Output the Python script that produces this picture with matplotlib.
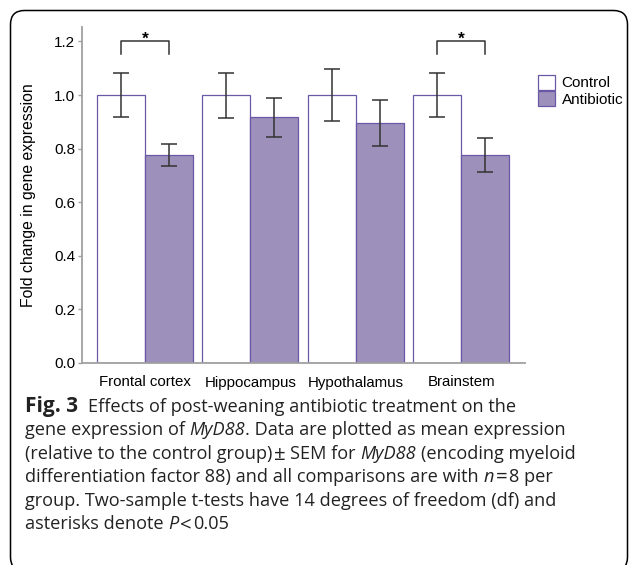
import matplotlib
matplotlib.use("Agg")
import matplotlib.pyplot as plt
import numpy as np
from matplotlib.patches import FancyBboxPatch, Patch
from matplotlib.transforms import IdentityTransform

# data
regions = ["Frontal cortex", "Hippocampus", "Hypothalamus", "Brainstem"]
control = [1.0, 1.0, 1.0, 1.0]
control_sem = [0.081, 0.084, 0.097, 0.083]
antibiotic = [0.776, 0.917, 0.896, 0.775]
antibiotic_sem = [0.040, 0.072, 0.086, 0.064]
significant = [True, False, False, True]
yticks = [0.0, 0.2, 0.4, 0.6, 0.8, 1.0, 1.2]

purple_edge = "#6a58a6"
purple_fill = "#9d90ba"
err_col = "#333333"
axis_col = "#a0a0a0"

plt.rcParams["font.family"] = ["Liberation Sans", "DejaVu Sans"]

W, H = 630, 565
fig = plt.figure(figsize=(W / 100, H / 100), dpi=100)
ax = fig.add_axes([82 / W, 1 - 363 / H, (525 - 82) / W, (363 - 27) / H])

x = np.arange(len(regions))
w = 0.456
ax.bar(x - w / 2, control, w, color="white", edgecolor=purple_edge, linewidth=0.9, label="Control")
ax.bar(x + w / 2, antibiotic, w, color=purple_fill, edgecolor=purple_edge, linewidth=0.9, label="Antibiotic")
ax.errorbar(x - w / 2, control, yerr=control_sem, fmt="none", ecolor=err_col,
            elinewidth=1.1, capsize=5.8, capthick=1.1)
ax.errorbar(x + w / 2, antibiotic, yerr=antibiotic_sem, fmt="none", ecolor=err_col,
            elinewidth=1.1, capsize=5.8, capthick=1.1)

# significance brackets
for i, s in enumerate(significant):
    if s:
        ax.plot([i - w / 2, i - w / 2, i + w / 2, i + w / 2], [1.153, 1.202, 1.202, 1.153],
                color=err_col, lw=1.1, clip_on=False)
        ax.text(i, 1.19, "*", ha="center", va="baseline", fontsize=12.5, fontweight="bold")

ax.set_xlim(-0.6, 3.607)
ax.set_ylim(0, 1.254)
ax.set_yticks(yticks)
ax.set_yticklabels([f"{t:.1f}" for t in yticks], fontsize=11)
ax.set_xticks(x)
ax.set_xticklabels(regions, fontsize=10.8)
ax.tick_params(axis="x", length=0, pad=9)
ax.tick_params(axis="y", length=3, color=axis_col, width=1, pad=2)
for sp in ["top", "right"]:
    ax.spines[sp].set_visible(False)
for sp in ["left", "bottom"]:
    ax.spines[sp].set_color(axis_col)
    ax.spines[sp].set_linewidth(1.3)
ax.set_ylabel("Fold change in gene expression", fontsize=11.3, labelpad=13)

handles = [Patch(facecolor="white", edgecolor=purple_edge, linewidth=0.9),
           Patch(facecolor=purple_fill, edgecolor=purple_edge, linewidth=0.9)]
ax.legend(handles, ["Control", "Antibiotic"], loc="upper left", bbox_to_anchor=(1.029, 0.858),
          frameon=False, fontsize=11, handlelength=1.1, handleheight=1.12,
          handletextpad=0.45, labelspacing=0.05, borderpad=0, borderaxespad=0)

# rounded frame around figure + caption (bottom edge runs off the image)
frame = FancyBboxPatch((10.5, -6), 617, 565 - 10.5 + 6, boxstyle="round,pad=0,rounding_size=14",
                       transform=IdentityTransform(), facecolor="none", edgecolor="black",
                       linewidth=1.1)
fig.patches.append(frame)

# caption with mixed styles; ("gap", f) adds f spaces, "sym" is a slightly larger math sign
cap_font = "Open Sans"
cap_size = 13.1
caption = [
    [("Fig. 3", "bold"), ("  Effects of post-weaning antibiotic treatment on the", "normal")],
    [("gene expression of ", "normal"), ("MyD88", "italic"), (". Data are plotted as mean expression", "normal")],
    [("(relative to the control group)", "normal"), (0.35, "gap"), ("±", "sym"),
     (" SEM for ", "normal"), ("MyD88", "italic"), (" (encoding myeloid", "normal")],
    [("differentiation factor 88) and all comparisons are with ", "normal"), ("n", "italic"),
     (0.35, "gap"), ("=", "sym"), (0.35, "gap"), ("8 per", "normal")],
    [("group. Two-sample t-tests have 14 degrees of freedom (df) and", "normal")],
    [("asterisks denote ", "normal"), ("P", "italic"), (0.35, "gap"), ("<", "sym"),
     (0.35, "gap"), ("0.05", "normal")],
]
renderer = fig.canvas.get_renderer()


def seg_size(style):
    if style == "bold":
        return cap_size * 1.15
    if style == "sym":
        return cap_size * 1.12
    return cap_size


def make_text(xf, yf, s, style):
    return fig.text(xf, yf, s, fontsize=seg_size(style), family=cap_font, va="baseline",
                    fontweight="bold" if style == "bold" else "normal",
                    fontstyle="italic" if style == "italic" else "normal", color="#222222")


def text_width(s, style):
    t = make_text(0, 0, s, style)
    wpx = t.get_window_extent(renderer).width
    t.remove()
    return wpx


space_w = text_width("a a", "normal") - text_width("aa", "normal")
baseline0 = 412
for k, line in enumerate(caption):
    xp = 25
    yp = baseline0 + k * 23.4
    for s, style in line:
        if style == "gap":
            xp += s * space_w
            continue
        lead = len(s) - len(s.lstrip(" "))
        trail = len(s) - len(s.rstrip(" "))
        core = s.strip(" ")
        xp += lead * space_w
        dy = 1.0 if style == "sym" else 0.0
        make_text(xp / W, 1 - (yp + dy) / H, core, style)
        xp += text_width(core, style) + trail * space_w

fig.savefig("out.png", dpi=100)
